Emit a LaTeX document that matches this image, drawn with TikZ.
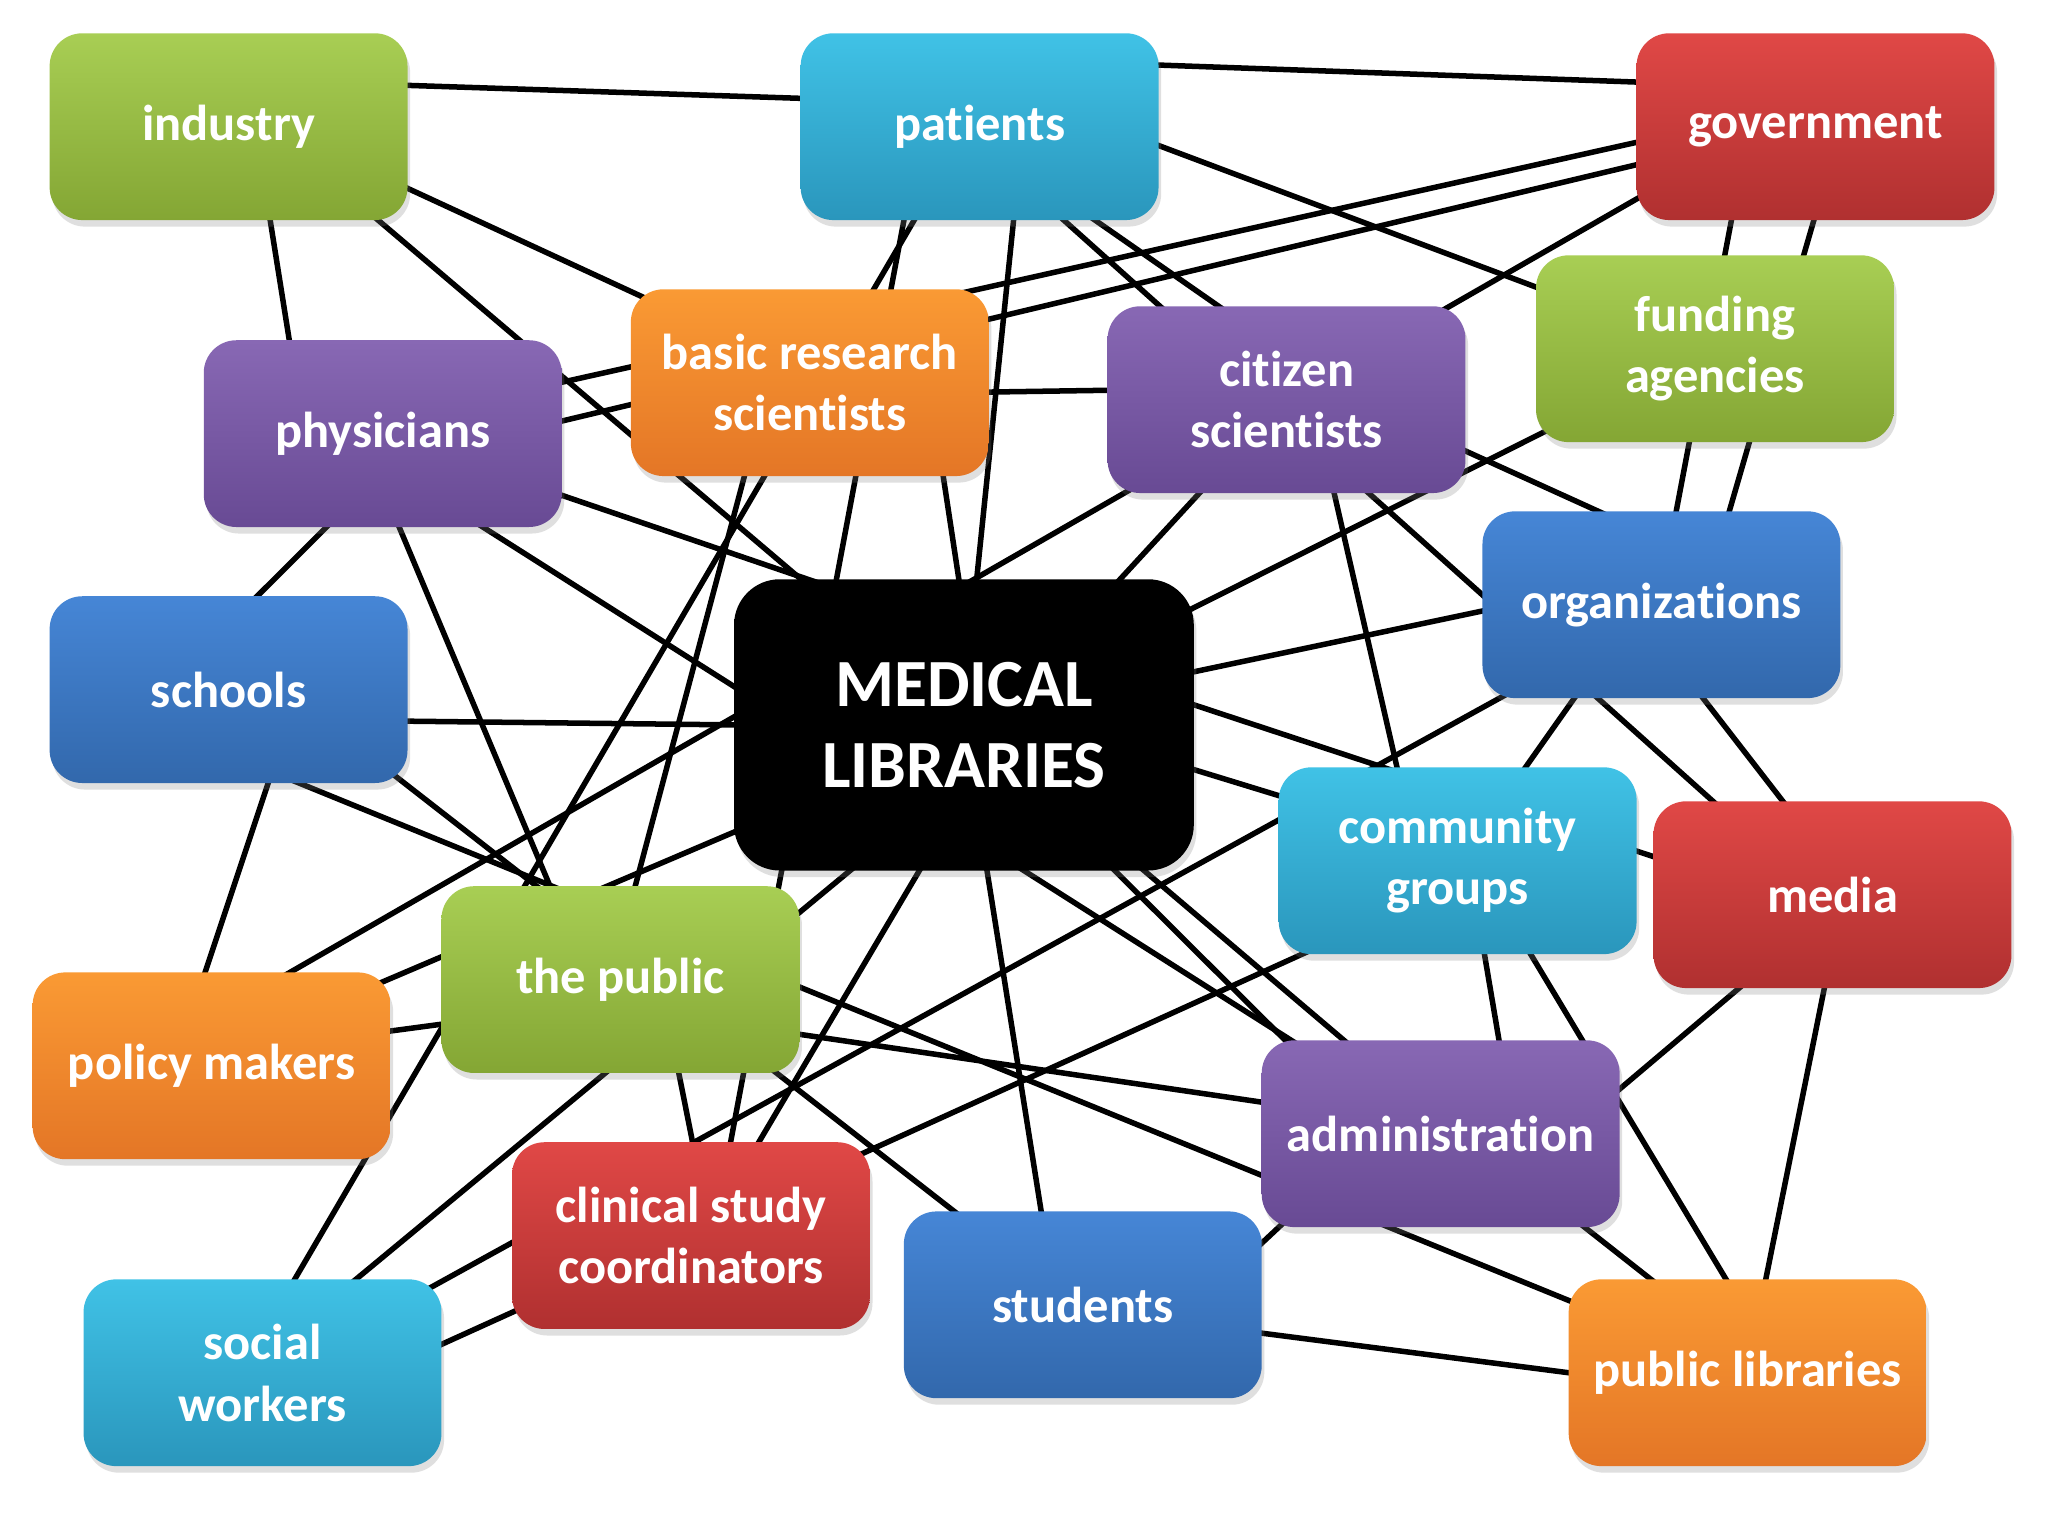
\documentclass[tikz,border=0pt]{standalone}
\usepackage{fontspec}
\setmainfont{Carlito}[RawFeature={-liga;-clig;-dlig;-calt}]
\usetikzlibrary{calc}
\usetikzlibrary{backgrounds,shadows}
\definecolor{cus-green}{RGB}{168, 206, 84}
\definecolor{cus-green2}{RGB}{132, 166, 52}
\definecolor{cus-cyan}{RGB}{64, 194, 230}
\definecolor{cus-cyan2}{RGB}{42, 150, 188}
\definecolor{cus-red}{RGB}{224, 72, 70}
\definecolor{cus-red2}{RGB}{176, 48, 48}
\definecolor{cus-purple}{RGB}{136, 104, 180}
\definecolor{cus-purple2}{RGB}{104, 74, 148}
\definecolor{cus-orange}{RGB}{250, 154, 52}
\definecolor{cus-orange2}{RGB}{228, 118, 38}
\definecolor{cus-blue}{RGB}{70, 134, 214}
\definecolor{cus-blue2}{RGB}{50, 104, 172}
\tikzset{
	stake/.style 2 args={rectangle, rounded corners=0.25cm, minimum width=2.74cm, minimum height=1.43cm, inner sep=0pt, outer sep=0pt, top color=#1, bottom color=#2, text=white, align=center, font=\fontsize{11}{13.4}\selectfont\bfseries, drop shadow={opacity=0.25, shadow xshift=0.02cm, shadow yshift=-0.05cm}},
	wire/.style={line width=1.2pt, shorten <=-0.2cm, shorten >=-0.2cm}
}

\begin{document}
\begin{tikzpicture}
\useasboundingbox (0,0) rectangle (15.68,-11.76);

\node [stake={cus-green}{cus-green2}] (ind) at (1.75,-0.97) {industry};
\node [stake={cus-cyan}{cus-cyan2}] (pat) at (7.50,-0.97) {patients};
\node [stake={cus-red}{cus-red2}] (gov) at (13.90,-0.97) {government};
\node [stake={cus-purple}{cus-purple2}] (phys) at (2.93,-3.32) {physicians};
\node [stake={cus-orange}{cus-orange2}] (bas) at (6.20,-2.93) {basic research\\scientists};
\node [stake={cus-purple}{cus-purple2}] (cit) at (9.85,-3.06) {citizen\\scientists};
\node [stake={cus-green}{cus-green2}] (fund) at (13.13,-2.67) {funding\\agencies};
\node [stake={cus-blue}{cus-blue2}] (sch) at (1.75,-5.28) {schools};
\node [stake={black}{black}, rounded corners=0.35cm, minimum width=3.52cm, minimum height=2.23cm, font=\fontsize{14.7}{17.6}\selectfont\bfseries] (med) at (7.38,-5.55) {MEDICAL\\LIBRARIES};
\node [stake={cus-blue}{cus-blue2}] (org) at (12.72,-4.63) {organizations};
\node [stake={cus-cyan}{cus-cyan2}] (com) at (11.16,-6.59) {community\\groups};
\node [stake={cus-red}{cus-red2}] (media) at (14.03,-6.85) {media};
\node [stake={cus-green}{cus-green2}] (pub) at (4.75,-7.50) {the public};
\node [stake={cus-orange}{cus-orange2}] (pol) at (1.62,-8.16) {policy makers};
\node [stake={cus-purple}{cus-purple2}] (adm) at (11.03,-8.68) {administration};
\node [stake={cus-red}{cus-red2}] (clin) at (5.29,-9.46) {clinical study\\coordinators};
\node [stake={cus-blue}{cus-blue2}] (stud) at (8.29,-9.99) {students};
\node [stake={cus-cyan}{cus-cyan2}] (soc) at (2.01,-10.51) {social\\workers};
\node [stake={cus-orange}{cus-orange2}] (plib) at (13.38,-10.51) {public libraries};

\begin{pgfonlayer}{background}
\fill [white] (0,0) rectangle (15.68,-11.76);
\foreach \a/\b in {ind.13/pat.171, ind.-19/bas.153, ind.-66/phys.135, ind.-32/adm.136,
	pat.19/gov.166, pat.-6/fund.161, pat.-125/soc.71, pat.-129/clin.67, pat.-70/med.85,
	pat.-48/media.142, pat.-39/cit.126, gov.-175/phys.16, gov.-168/phys.4, gov.-158/med.86,
	gov.-132/org.81, gov.-91/org.54, fund.-154/med.27, bas.-3/cit.177, bas.-35/med.92,
	bas.-125/pub.81, cit.-16/org.124, cit.-133/med.43, cit.-63/com.123, org.-178/med.13,
	org.-150/soc.27, org.-133/com.54, org.-66/media.118, med.-11/com.160, med.5/media.168,
	com.-52/plib.103, com.-74/adm.58, soc.9/com.-149, med.-81/stud.114, phys.-43/adm.148,
	sch.-53/plib.158, pub.-17/adm.170, sch.-28/stud.144, sch.-10/med.180, sch.73/phys.-121,
	phys.-80/pub.127, sch.-67/pol.94, pol.50/med.178, pol.26/med.-155, pol.11/pub.-166,
	soc.45/med.-128, pub.-58/clin.89, med.-107/clin.54, phys.-19/med.137, med.-44/adm.149,
	media.-135/adm.14, media.-95/plib.79, adm.-150/stud.19, adm.-33/plib.136, stud.-9/plib.180}{
	\draw [wire] (\a) -- (\b);
}
\end{pgfonlayer}
\end{tikzpicture}
\end{document}
